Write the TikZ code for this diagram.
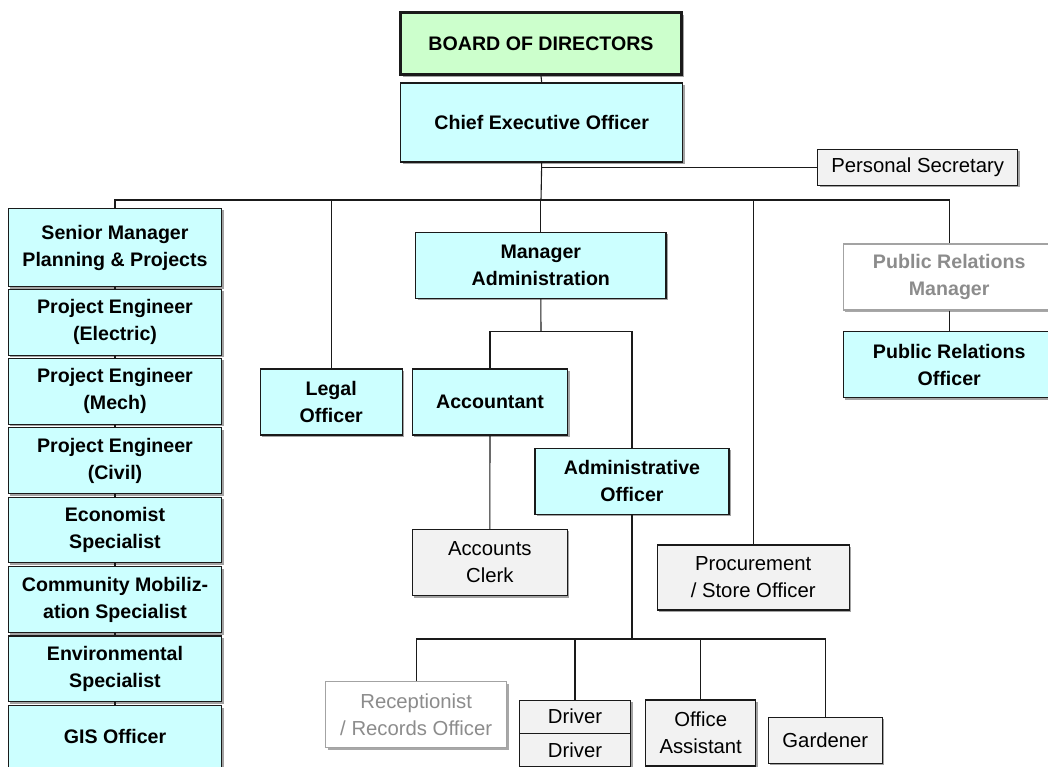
\documentclass[tikz,border=0pt]{standalone}
\usepackage{fontspec}
\setmainfont{Liberation Sans}
\usepackage{tikz}
\usetikzlibrary{shadows}

\definecolor{boxcyan}{HTML}{CCFFFF}
\definecolor{boxgreen}{HTML}{CCFFCC}
\definecolor{boxgray}{HTML}{F2F2F2}
\definecolor{linegray}{HTML}{1A1A1A}
\definecolor{faintgray}{HTML}{8C8C8C}

\tikzset{
	orgbox/.style={draw=linegray, line width=1.1pt, inner sep=0pt, align=center,
		drop shadow={shadow xshift=2pt, shadow yshift=-2pt, opacity=0.6, fill=black!60}},
	cyanbox/.style={orgbox, fill=boxcyan, font=\fontsize{19.6}{27}\selectfont\bfseries},
	bodbox/.style={cyanbox, fill=boxgreen, line width=3pt},
	graybox/.style={orgbox, fill=boxgray, font=\fontsize{20.3}{27}\selectfont},
	faintbox/.style={orgbox, fill=white, draw=faintgray!80, text=faintgray,
		drop shadow={shadow xshift=2pt, shadow yshift=-2pt, opacity=0.4, fill=black!30}},
	link/.style={draw=linegray, line width=1.1pt}
}

\begin{document}
\begin{tikzpicture}[x=1pt, y=-1pt]
		\useasboundingbox (0, 0) rectangle (1048, 766);
		
		%%%%% TOP %%%%%
		\node[bodbox, minimum width=281pt, minimum height=62pt] (bod) at (541, 43.5) {BOARD OF DIRECTORS};
		\node[cyanbox, minimum width=282pt, minimum height=79pt] (ceo) at (541.7, 122.5) {Chief Executive Officer};
		\node[graybox, minimum width=200pt, minimum height=36pt] (ps) at (917.7, 167.3) {Personal Secretary};
		
		%%%%% LEFT COLUMN %%%%%
		\node[cyanbox, minimum width=213.4pt, minimum height=78.4pt] (sm) at (115, 247.5) {Senior Manager\\Planning \& Projects};
		\node[cyanbox, minimum width=213.4pt, minimum height=65.7pt] (pee) at (115, 322.2) {Project Engineer\\(Electric)};
		\node[cyanbox, minimum width=213.4pt, minimum height=66pt] (pem) at (115, 391.3) {Project Engineer\\(Mech)};
		\node[cyanbox, minimum width=213.4pt, minimum height=66pt] (pec) at (115, 460.8) {Project Engineer\\(Civil)};
		\node[cyanbox, minimum width=213.4pt, minimum height=65.4pt] (eco) at (115, 530) {Economist\\Specialist};
		\node[cyanbox, minimum width=213.4pt, minimum height=66pt] (com) at (115, 599.7) {Community Mobiliz-\\ation Specialist};
		\node[cyanbox, minimum width=213.4pt, minimum height=65.7pt] (env) at (115, 668.8) {Environmental\\Specialist};
		\node[cyanbox, minimum width=213.4pt, minimum height=62pt] (gis) at (115, 736.8) {GIS Officer};
		
		%%%%% MIDDLE %%%%%
		\node[cyanbox, minimum width=142.3pt, minimum height=66pt] (legal) at (331.2, 402) {Legal\\Officer};
		\node[cyanbox, minimum width=250.3pt, minimum height=66pt] (madm) at (540.8, 265.3) {Manager\\Administration};
		\node[cyanbox, minimum width=155.4pt, minimum height=66pt] (acct) at (490, 402) {Accountant};
		\node[cyanbox, minimum width=194pt, minimum height=66pt] (aoff) at (632, 481.3) {Administrative\\Officer};
		\node[graybox, minimum width=155pt, minimum height=66.4pt] (clerk) at (489.8, 562.5) {Accounts\\Clerk};
		\node[graybox, minimum width=191.7pt, minimum height=65pt] (proc) at (753.2, 577.5) {Procurement\\/ Store Officer};
		
		%%%%% RIGHT %%%%%
		\node[faintbox, font=\fontsize{19.6}{27}\selectfont\bfseries, minimum width=211.7pt, minimum height=66pt] (prm) at (949.2, 277) {Public Relations\\Manager};
		\node[cyanbox, minimum width=211.7pt, minimum height=66pt] (pro) at (949.2, 364.7) {Public Relations\\Officer};
		
		%%%%% BOTTOM ROW %%%%%
		\node[faintbox, font=\fontsize{20.3}{27}\selectfont, minimum width=181pt, minimum height=66pt] (rec) at (416.2, 714.7) {Receptionist\\/ Records Officer};
		\node[graybox, minimum width=111.4pt, minimum height=33.3pt] (drva) at (575, 716.7) {Driver};
		\node[graybox, minimum width=111.4pt, minimum height=33.3pt] (drvb) at (575, 750) {Driver};
		\node[graybox, minimum width=110pt, minimum height=66pt] (oa) at (700.7, 733) {Office\\Assistant};
		\node[graybox, minimum width=114pt, minimum height=46.3pt] (gard) at (825.3, 740.2) {Gardener};
		
		%%%%% LINKS %%%%%
		\coordinate (bus) at (541, 200);
		\coordinate (abus) at (541, 331.7);
		\coordinate (sbus) at (632, 639);
		
		\draw[link] (bod.south) -- (ceo.north);
		\draw[link] (ceo.south) -- (bus);
		\draw[link] (ceo.south |- ps.west) -- (ps.west);
		\draw[link] (sm.north) |- (bus) -| (prm.north);
		\draw[link] (legal.north) -- (legal.north |- bus);
		\draw[link] (madm.north) -- (madm.north |- bus);
		\draw[link] (proc.north) -- (proc.north |- bus);
		\draw[link] (prm.south) -- (pro.north);
		
		\foreach \a/\b in {sm/pee, pee/pem, pem/pec, pec/eco, eco/com, com/env, env/gis}
			\draw[link] (\a.south) -- (\b.north);
		
		\draw[link] (madm.south) -- (abus);
		\draw[link] (acct.north) |- (abus) -| (aoff.north);
		\draw[link] (acct.south) -- (clerk.north);
		
		\draw[link] (aoff.south) -- (sbus);
		\draw[link] (rec.north) |- (sbus) -| (gard.north);
		\draw[link] (drva.north) -- (drva.north |- sbus);
		\draw[link] (oa.north) -- (oa.north |- sbus);
		
		%%%%% END %%%%%
	\end{tikzpicture}
\end{document}
